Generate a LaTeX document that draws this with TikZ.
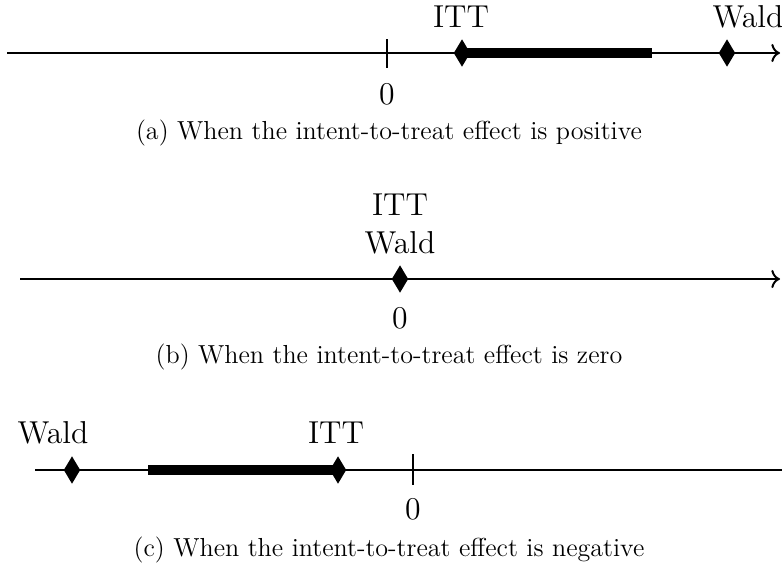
\documentclass[tikz,border=0pt]{standalone}
\usetikzlibrary{shapes.geometric,arrows.meta}
\begin{document}
\begin{tikzpicture}[x=0.4545pt,y=-0.4545pt,
  axis/.style={line width=0.9pt},
  axisarrow/.style={line width=0.9pt,-{To[scale=1.1]}},
  tick/.style={line width=0.5pt},
  bar/.style={line width=4.2pt},
  est/.style={diamond,fill=black,draw=none,inner sep=0pt,minimum width=7.6pt,minimum height=12.6pt},
  lab/.style={font=\Large,anchor=base,inner sep=0pt},
  zero/.style={font=\Large,inner sep=0pt},
  capt/.style={font=\fontsize{11.85}{14}\selectfont,inner sep=0pt}]
\useasboundingbox (0,0) rectangle (782,571);
% ---------- (a)
\coordinate (aL) at (7,53);
\coordinate (aR) at (780,53);
\draw[axisarrow] (aL) -- (aR);
\coordinate (aT1) at (387,39);
\coordinate (aT2) at (387,68);
\draw[tick] (aT1) -- (aT2);
\node[zero] (a0) at (387,94) {0};
\coordinate (aBar) at (652,53);
\node[est] (aITT) at (462,53) {};
\draw[bar] (aITT.center) -- (aBar);
\node[est] (aW) at (727,53) {};
\node[lab] (aITTl) at (461,27) {ITT};
\node[lab] (aWl) at (748,27) {Wald};
\node[capt] (capa) at (389,133) {(a) When the intent-to-treat effect is positive};
% ---------- (b)
\coordinate (bL) at (20,279);
\coordinate (bR) at (780,279);
\draw[axisarrow] (bL) -- (bR);
\node[est] (bITT) at (400,279) {};
\node[zero] (b0) at (400,318) {0};
\node[lab] (bITTl) at (400,215) {ITT};
\node[lab] (bWl) at (400,253) {Wald};
\node[capt] (capb) at (389,357) {(b) When the intent-to-treat effect is zero};
% ---------- (c)
\coordinate (cL) at (35,470);
\coordinate (cR) at (782,470);
\draw[axis] (cL) -- (cR);
\coordinate (cT1) at (413,454);
\coordinate (cT2) at (413,485);
\draw[tick] (cT1) -- (cT2);
\node[zero] (c0) at (413,509) {0};
\coordinate (cBar) at (148,470);
\node[est] (cITT) at (338,470) {};
\draw[bar] (cBar) -- (cITT.center);
\node[est] (cW) at (72,470) {};
\node[lab] (cITTl) at (336,443) {ITT};
\node[lab] (cWl) at (53,443) {Wald};
\node[capt] (capc) at (389,550) {(c) When the intent-to-treat effect is negative};
\end{tikzpicture}
\end{document}
